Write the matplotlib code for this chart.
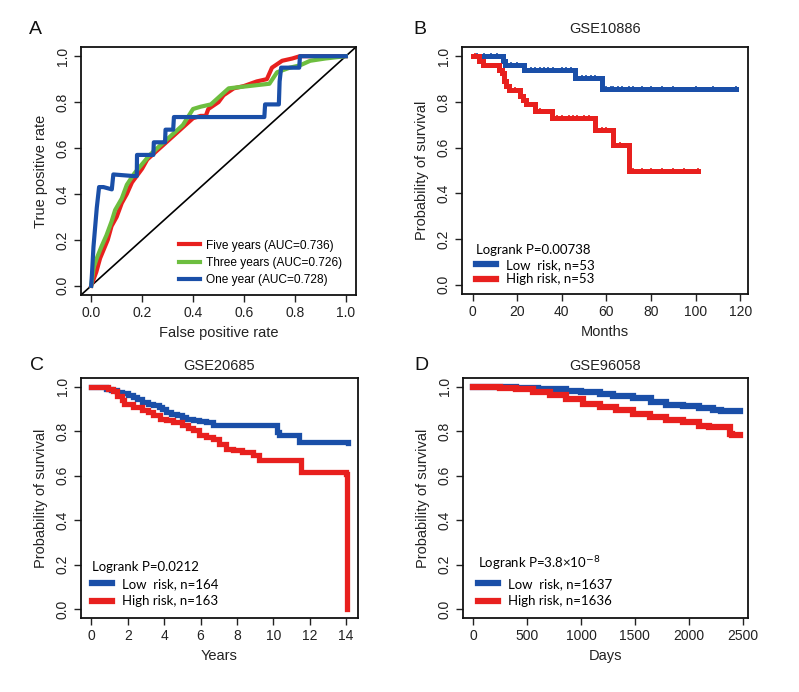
import matplotlib
matplotlib.use("Agg")
import matplotlib.pyplot as plt
from matplotlib.lines import Line2D
import numpy as np

plt.rcParams['font.family'] = ['Liberation Sans', 'DejaVu Sans']

RED = '#e8201e'
GREEN = '#6dbe3f'
BLUE = '#1a4fa8'

# ---------------- Panel A: ROC data ----------------
roc5_fpr = [0, 0.01, 0.02, 0.035, 0.05, 0.065, 0.08, 0.1, 0.12, 0.14, 0.16, 0.18, 0.2, 0.22, 0.25, 0.28,
            0.3, 0.33, 0.35, 0.38, 0.4, 0.43, 0.45, 0.46, 0.5, 0.52, 0.56, 0.6, 0.65, 0.69, 0.71, 0.75,
            0.79, 0.82, 0.9, 0.95, 1.0]
roc5_tpr = [0, 0.03, 0.06, 0.12, 0.16, 0.2, 0.26, 0.3, 0.36, 0.4, 0.45, 0.48, 0.51, 0.55, 0.58, 0.61,
            0.63, 0.66, 0.68, 0.71, 0.73, 0.74, 0.74, 0.77, 0.8, 0.83, 0.86, 0.87, 0.89, 0.9, 0.95, 0.98,
            0.99, 1.0, 1.0, 1.0, 1.0]
roc3_fpr = [0, 0.01, 0.022, 0.04, 0.06, 0.08, 0.094, 0.12, 0.14, 0.17, 0.2, 0.23, 0.26, 0.29, 0.32,
            0.36, 0.4, 0.43, 0.47, 0.5, 0.54, 0.58, 0.62, 0.66, 0.7, 0.73, 0.78, 0.82, 0.86, 0.92, 1.0]
roc3_tpr = [0, 0.08, 0.12, 0.17, 0.22, 0.28, 0.33, 0.38, 0.44, 0.49, 0.53, 0.57, 0.6, 0.63, 0.66,
            0.7, 0.77, 0.78, 0.79, 0.82, 0.86, 0.865, 0.87, 0.875, 0.88, 0.93, 0.95, 0.96, 0.98, 0.99, 1.0]
roc1_fpr = [0, 0.003, 0.009, 0.022, 0.031, 0.048, 0.081, 0.087, 0.166, 0.179, 0.18, 0.244, 0.246, 0.29,
            0.292, 0.322, 0.325, 0.68, 0.683, 0.737, 0.74, 0.746, 0.817, 0.82, 1.0]
roc1_tpr = [0, 0.05, 0.17, 0.34, 0.43, 0.43, 0.42, 0.485, 0.478, 0.478, 0.57, 0.57, 0.625, 0.625,
            0.68, 0.68, 0.735, 0.735, 0.79, 0.79, 0.89, 0.95, 0.95, 1.0, 1.0]
roc_labels = ['Five years (AUC=0.736)', 'Three years (AUC=0.726)', 'One year (AUC=0.728)']

# ---------------- Panel B: GSE10886 ----------------
b_low_t = [0, 13.5, 14.5, 23, 46, 58, 118]
b_low_s = [1, 0.98, 0.962, 0.94, 0.906, 0.855, 0.855]
b_low_c = [2, 5, 8, 11, 17, 20, 26, 28, 30, 32, 34, 36, 40, 42, 44, 49, 51, 53, 55, 60, 62, 63, 65,
           67, 70, 72, 76, 80, 85, 90, 100, 108, 118]
b_high_t = [0, 2.7, 4.5, 12, 13, 14, 15, 16.5, 21, 22.5, 24, 28, 35.5, 55, 63, 70, 101]
b_high_s = [1, 0.98, 0.96, 0.94, 0.928, 0.89, 0.87, 0.85, 0.826, 0.81, 0.79, 0.76, 0.73, 0.675, 0.61,
            0.50, 0.50]
b_high_c = [1, 19, 30, 38, 40, 43, 45, 47, 50, 52, 58, 60, 66, 72, 76, 80, 85, 90, 95, 101]

# ---------------- Panel C: GSE20685 ----------------
c_low_t = [0, 0.8, 1.1, 1.4, 1.7, 2.0, 2.3, 2.5, 2.8, 3.1, 3.4, 3.7, 3.9, 4.1, 4.4, 4.7, 5.0, 5.2,
           5.6, 5.9, 6.3, 6.7, 10.0, 10.2, 10.3, 11.4, 14.1]
c_low_s = [1, 0.99, 0.985, 0.977, 0.972, 0.965, 0.955, 0.947, 0.93, 0.925, 0.917, 0.908, 0.9, 0.887,
           0.88, 0.872, 0.865, 0.857, 0.852, 0.848, 0.84, 0.827, 0.827, 0.797, 0.782, 0.752, 0.749]
c_high_t = [0, 0.9, 1.2, 1.4, 1.7, 1.8, 2.3, 2.8, 3.1, 3.4, 3.75, 4.1, 4.5, 5.0, 5.3, 5.6, 5.9, 6.3,
            6.7, 7.0, 7.4, 7.8, 8.3, 8.9, 9.2, 11.5, 14.0, 14.05]
c_high_s = [1, 0.99, 0.98, 0.96, 0.94, 0.925, 0.91, 0.895, 0.885, 0.872, 0.857, 0.85, 0.842, 0.827,
            0.815, 0.805, 0.782, 0.774, 0.767, 0.744, 0.722, 0.714, 0.707, 0.692, 0.669, 0.617, 0.609, 0.0]

# ---------------- Panel D: GSE96058 ----------------
d_low_t = [0, 200, 400, 600, 864, 1000, 1173, 1300, 1481, 1650, 1790, 1950, 2099, 2222, 2300, 2480]
d_low_s = [1, 0.999, 0.996, 0.99, 0.982, 0.976, 0.968, 0.96, 0.948, 0.933, 0.92, 0.912, 0.905, 0.897,
           0.893, 0.893]
d_high_t = [0, 247, 400, 556, 710, 864, 1019, 1173, 1327, 1481, 1636, 1790, 1944, 2099, 2191, 2361,
            2386, 2400, 2480]
d_high_s = [1, 0.997, 0.99, 0.977, 0.965, 0.944, 0.925, 0.91, 0.895, 0.88, 0.865, 0.85, 0.84, 0.825,
            0.82, 0.82, 0.79, 0.782, 0.782]

W, H = 799, 692
fig = plt.figure(figsize=(W / 100, H / 100), dpi=100)


def add_ax(l, r, t, b):
    return fig.add_axes([l / W, 1 - b / H, (r - l) / W, (b - t) / H])


def style(ax, xticks, xlim, xlabel, ylabel):
    ax.set_xlim(*xlim)
    ax.set_ylim(-0.04, 1.04)
    ax.set_xticks(xticks)
    ax.set_yticks([0, 0.2, 0.4, 0.6, 0.8, 1.0])
    ax.set_yticklabels(['0.0', '0.2', '0.4', '0.6', '0.8', '1.0'], rotation=90, va='center')
    ax.tick_params(labelsize=10, length=5, width=1, direction='out', pad=3, colors='#222222')
    for s in ax.spines.values():
        s.set_linewidth(1.3)
        s.set_color('#111111')
    ax.set_xlabel(xlabel, fontsize=10.5, labelpad=4, color='#222222')
    ax.set_ylabel(ylabel, fontsize=10.5, labelpad=6, color='#222222')


# Panel A
axA = add_ax(81, 356, 47, 295)
axA.plot([-0.04, 1.04], [-0.04, 1.04], color='black', lw=1.2)
axA.plot(roc5_fpr, roc5_tpr, color=RED, lw=3, label=roc_labels[0])
axA.plot(roc3_fpr, roc3_tpr, color=GREEN, lw=3, label=roc_labels[1])
axA.plot(roc1_fpr, roc1_tpr, color=BLUE, lw=3, label=roc_labels[2])
style(axA, [0, 0.2, 0.4, 0.6, 0.8, 1.0], (-0.04, 1.04), 'False positive rate', 'True positive rate')
axA.set_xticklabels(['0.0', '0.2', '0.4', '0.6', '0.8', '1.0'])
axA.legend(loc='lower left', bbox_to_anchor=(0.355, 0.035), frameon=False, fontsize=8.6,
           handlelength=1.75, handletextpad=0.55, labelspacing=0.45, borderpad=0,
           borderaxespad=0)


def km(ax, t, s, color, lw, cens=None):
    ax.plot(t, s, drawstyle='steps-post', color=color, lw=lw, solid_joinstyle='miter')
    if cens is not None:
        tt = np.array(t)
        ss = np.array(s)
        cy = [ss[np.searchsorted(tt, c, side='right') - 1] for c in cens]
        ax.plot(cens, cy, ls='none', marker='+', ms=5, mew=1.2, color=color)


def km_legend(ax, ptext, labels, anchor, spacing):
    handles = [Line2D([], [], color=BLUE, lw=4.5), Line2D([], [], color=RED, lw=4.5)]
    leg = ax.legend(handles, labels, loc='lower left', bbox_to_anchor=anchor, frameon=False,
                    title=ptext, alignment='left', handlelength=1.5, handletextpad=0.75,
                    labelspacing=spacing, borderpad=0, borderaxespad=0,
                    prop={'family': 'Lato', 'size': 9.5})
    leg.get_title().set_fontfamily('Lato')
    leg.get_title().set_fontsize(9.5)


# Panel B
axB = add_ax(462, 748, 47, 294)
km(axB, b_low_t, b_low_s, BLUE, 3.6, b_low_c)
km(axB, b_high_t, b_high_s, RED, 3.6, b_high_c)
style(axB, [0, 20, 40, 60, 80, 100, 120], (-4.8, 123.5), 'Months', 'Probability of survival')
axB.set_title('GSE10886', fontsize=10.5, pad=10, color='#222222')
km_legend(axB, 'Logrank P=0.00738', ['Low  risk, n=53', 'High risk, n=53'], (0.05, 0.035), 0.2)

# Panel C
axC = add_ax(81, 358, 378, 618)
km(axC, c_low_t, c_low_s, BLUE, 3.8)
km(axC, c_high_t, c_high_s, RED, 3.8)
style(axC, [0, 2, 4, 6, 8, 10, 12, 14], (-0.57, 14.65), 'Years', 'Probability of survival')
axC.set_title('GSE20685', fontsize=10.5, pad=6, color='#222222')
km_legend(axC, 'Logrank P=0.0212', ['Low  risk, n=164', 'High risk, n=163'], (0.04, 0.045), 0.4)

# Panel D
axD = add_ax(463, 748, 378, 618)
km(axD, d_low_t, d_low_s, BLUE, 4.5)
km(axD, d_high_t, d_high_s, RED, 4.5)
style(axD, [0, 500, 1000, 1500, 2000, 2500], (-95, 2550), 'Days', 'Probability of survival')
axD.set_title('GSE96058', fontsize=10.5, pad=6, color='#222222')
km_legend(axD, 'Logrank P=3.8\u00d710$^{-8}$', ['Low  risk, n=1637', 'High risk, n=1636'],
          (0.053, 0.045), 0.4)

# Panel letters
for lab, x, y in [('A', 35, 29), ('B', 420, 29), ('C', 37, 366), ('D', 421, 366)]:
    fig.text(x / W, 1 - y / H, lab, fontsize=14, ha='center', va='center', color='#111111')

fig.savefig('out.png', dpi=100)
